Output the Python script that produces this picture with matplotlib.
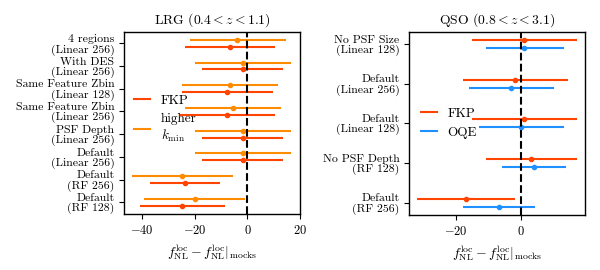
import matplotlib
matplotlib.use("Agg")
import matplotlib.pyplot as plt
import numpy as np

plt.rcParams['font.family'] = 'serif'
plt.rcParams['font.serif'] = ['cmr10']
plt.rcParams['mathtext.fontset'] = 'cm'
plt.rcParams['axes.formatter.use_mathtext'] = True
plt.rcParams['font.size'] = 8.5

# LRG panel (bottom to top)
lrg_labels = ["Default\n(RF 128)", "Default\n(RF 256)", "Default\n(Linear 256)",
              "PSF Depth\n(Linear 256)", "Same Feature Zbin\n(Linear 256)",
              "Same Feature Zbin\n(Linear 128)", "With DES\n(Linear 256)",
              "4 regions\n(Linear 256)"]
lrg_fkp = [-24.9, -23.9, -1.6, -1.6, -7.6, -7.6, -1.6, -6.6]
lrg_fkp_lo = [-41.0, -37.1, -17.1, -17.1, -25.7, -24.7, -17.1, -23.8]
lrg_fkp_hi = [-8.5, -10.4, 13.7, 13.7, 10.6, 9.7, 13.7, 10.6]
lrg_kmin = [-20.0, -24.9, -1.6, -1.6, -5.6, -6.6, -1.6, -3.8]
lrg_kmin_lo = [-39.2, -43.9, -20.0, -20.0, -23.8, -24.7, -20.0, -21.9]
lrg_kmin_hi = [-0.8, -5.6, 16.6, 16.6, 12.7, 11.8, 16.6, 14.6]

# QSO panel (bottom to top)
qso_labels = ["Default\n(RF 256)", "No PSF Depth\n(RF 128)", "Default\n(Linear 128)",
              "Default\n(Linear 256)", "No PSF Size\n(Linear 128)"]
qso_fkp = [-16.9, 3.1, 1.0, -1.8, 1.0]
qso_fkp_lo = [-31.9, -10.9, -15.0, -17.9, -15.0]
qso_fkp_hi = [-1.8, 17.1, 17.1, 14.2, 17.1]
qso_oqe = [-6.9, 3.9, 0.0, -3.0, 1.0]
qso_oqe_lo = [-17.9, -5.9, -12.8, -15.9, -10.9]
qso_oqe_hi = [4.2, 13.8, 13.1, 10.2, 13.1]

c_fkp = '#ff4500'
c_kmin = '#ff8c00'
c_oqe = '#1e90ff'


def errbars(ax, y, c, lo, hi, color, label):
    c = np.array(c)
    err = [c - np.array(lo), np.array(hi) - c]
    ax.errorbar(c, y, xerr=err, fmt='o', ms=3, color=color, ecolor=color,
                elinewidth=1.5, capsize=0)
    ax.plot([], [], color=color, lw=1.5, label=label)


fig = plt.figure(figsize=(6, 2.7), dpi=100)
ax1 = fig.add_axes([124 / 600, 1 - 214 / 270, 176 / 600, 182.3 / 270])
ax2 = fig.add_axes([409 / 600, 1 - 215 / 270, 176 / 600, 183.3 / 270])

xlab = r'$f_{\rm NL}^{\rm loc} - f_{\rm NL}^{\rm loc}|_{\rm mocks}$'

y1 = np.arange(len(lrg_labels))
errbars(ax1, y1 - 0.15, lrg_fkp, lrg_fkp_lo, lrg_fkp_hi, c_fkp, 'FKP')
errbars(ax1, y1 + 0.15, lrg_kmin, lrg_kmin_lo, lrg_kmin_hi, c_kmin, 'higher\n$k_{\\rm min}$')
ax1.axvline(0, color='k', ls='--', lw=1.5, zorder=5)
ax1.set_yticks(y1)
ax1.set_yticklabels(lrg_labels, fontsize=8.5, linespacing=1.0)
ax1.set_xticks([-40, -20, 0, 20])
ax1.set_title('LRG $(0.4 < z < 1.1)$', fontsize=9.8)
ax1.set_xlabel(xlab, fontsize=10)
ax1.legend(loc='center left', frameon=False, handlelength=1.2, fontsize=9.5,
           bbox_to_anchor=(-0.01, 0.52))

y2 = np.arange(len(qso_labels))
errbars(ax2, y2 + 0.1, qso_fkp, qso_fkp_lo, qso_fkp_hi, c_fkp, 'FKP')
errbars(ax2, y2 - 0.1, qso_oqe, qso_oqe_lo, qso_oqe_hi, c_oqe, 'OQE')
ax2.axvline(0, color='k', ls='--', lw=1.5, zorder=5)
ax2.set_yticks(y2)
ax2.set_yticklabels(qso_labels, fontsize=8.5, linespacing=1.0)
ax2.set_xticks([-20, 0])
ax2.set_title('QSO $(0.8 < z < 3.1)$', fontsize=9.8)
ax2.set_xlabel(xlab, fontsize=10)
ax2.legend(loc='center left', frameon=False, handlelength=1.2, fontsize=9.5,
           bbox_to_anchor=(0.0, 0.5))

for ax in (ax1, ax2):
    for s in ax.spines.values():
        s.set_linewidth(1.0)
    ax.tick_params(axis='x', labelsize=9)

fig.savefig('out.png', dpi=100)
